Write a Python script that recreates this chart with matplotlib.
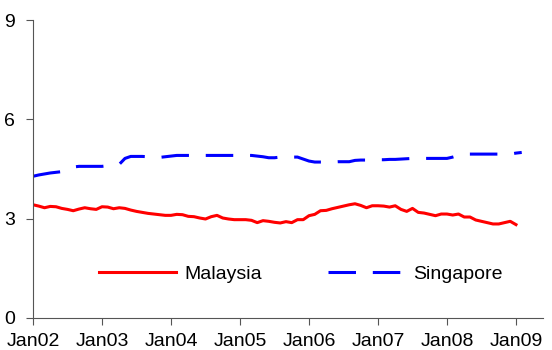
import numpy as np
import matplotlib.pyplot as plt

plt.rcParams['font.family'] = ['Liberation Sans', 'DejaVu Sans']

malaysia = [3.42, 3.38, 3.33, 3.37, 3.36, 3.31, 3.28, 3.24, 3.29, 3.33, 3.30, 3.28,
            3.36, 3.35, 3.30, 3.33, 3.31, 3.26, 3.22, 3.19, 3.16, 3.14, 3.12, 3.10,
            3.10, 3.13, 3.12, 3.07, 3.06, 3.02, 2.99, 3.06, 3.10, 3.02, 2.99, 2.97,
            2.97, 2.97, 2.95, 2.88, 2.94, 2.92, 2.89, 2.87, 2.91, 2.88, 2.97, 2.97,
            3.09, 3.13, 3.24, 3.25, 3.30, 3.34, 3.38, 3.42, 3.45, 3.40, 3.33, 3.39,
            3.39, 3.38, 3.35, 3.39, 3.28, 3.22, 3.31, 3.19, 3.17, 3.13, 3.09, 3.14,
            3.14, 3.11, 3.14, 3.05, 3.05, 2.96, 2.92, 2.88, 2.84, 2.84, 2.88, 2.92,
            2.82]

singapore = [4.28, 4.32, 4.35, 4.38, 4.40, 4.42, 4.50, 4.56, 4.58, 4.58, 4.58, 4.58,
             4.58, 4.60, 4.62, 4.64, 4.82, 4.88, 4.88, 4.88, 4.87, 4.86, 4.85, 4.87,
             4.89, 4.91, 4.91, 4.91, 4.91, 4.91, 4.91, 4.91, 4.91, 4.91, 4.91, 4.91,
             4.91, 4.91, 4.91, 4.89, 4.87, 4.84, 4.84, 4.86, 4.86, 4.86, 4.86, 4.80,
             4.74, 4.71, 4.71, 4.71, 4.71, 4.72, 4.72, 4.72, 4.76, 4.77, 4.77, 4.78,
             4.78, 4.78, 4.79, 4.79, 4.80, 4.81, 4.82, 4.82, 4.82, 4.82, 4.82, 4.82,
             4.82, 4.86, 4.91, 4.95, 4.95, 4.95, 4.95, 4.95, 4.95, 4.95, 4.95, 4.95,
             4.98, 5.00]

tick_labels = ["Jan02", "Jan03", "Jan04", "Jan05", "Jan06", "Jan07", "Jan08", "Jan09"]

fig = plt.figure(figsize=(5.52, 3.5), dpi=100)
ax = fig.add_axes([33 / 552, 32 / 350, 510 / 552, 298 / 350])

ax.plot(np.arange(len(malaysia)), malaysia, color="#ff0000", lw=2.2, label="Malaysia")
ax.plot(np.arange(len(singapore)), singapore, color="#0000ff", lw=2.2,
        dashes=(9, 5.5), label="Singapore")

ax.set_xlim(0, 88.7)
ax.set_ylim(0, 9)
ax.set_yticks([0, 3, 6, 9])
ax.set_xticks(np.arange(0, 85, 12))
ax.set_xticklabels(tick_labels)

for s in ["top", "right"]:
    ax.spines[s].set_visible(False)
for s in ["left", "bottom"]:
    ax.spines[s].set_color("#555555")
ax.tick_params(direction="out", length=5, color="#555555", labelsize=14)
ax.tick_params(axis="y", pad=8)
ax.tick_params(axis="x", pad=6)

ax.legend(loc="center", bbox_to_anchor=(0.525, 0.148), ncol=2, frameon=False,
          fontsize=14, handlelength=4, handletextpad=0.4, columnspacing=3.4)

plt.savefig("out.png", dpi=100)
